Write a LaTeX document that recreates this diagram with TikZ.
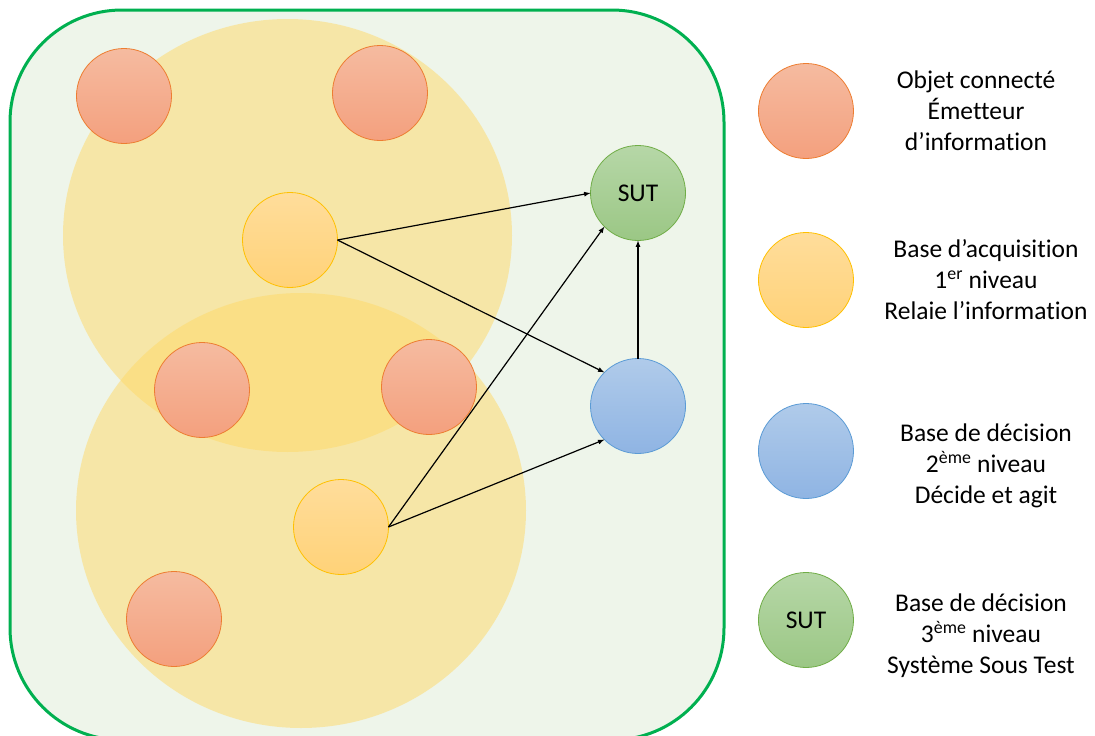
\documentclass[tikz,border=0pt]{standalone}
\usepackage{fontspec}
\setmainfont{Carlito}[Ligatures=NoCommon]
\usetikzlibrary{shapes.geometric,arrows,positioning}
\definecolor{cadre}{RGB}{0,176,80}
\definecolor{fond}{RGB}{238,245,234}
\definecolor{zone}{RGB}{255,217,102}
\definecolor{objhaut}{RGB}{245,187,160}
\definecolor{objbas}{RGB}{244,160,126}
\definecolor{objbord}{RGB}{237,125,49}
\definecolor{acqhaut}{RGB}{255,221,155}
\definecolor{acqbas}{RGB}{255,210,120}
\definecolor{acqbord}{RGB}{255,192,0}
\definecolor{dechaut}{RGB}{176,203,234}
\definecolor{decbas}{RGB}{143,180,227}
\definecolor{decbord}{RGB}{91,155,213}
\definecolor{suthaut}{RGB}{182,215,167}
\definecolor{sutbas}{RGB}{155,199,133}
\definecolor{sutbord}{RGB}{112,173,71}

\begin{document}
\begin{tikzpicture}[x=1pt,y=-1pt]
\tikzstyle{base}=[circle, inner sep=0pt,outer sep=0pt,
	line width=0.8pt,minimum size=95pt,
	font=\fontsize{25.5}{31}\selectfont,
]
\tikzstyle{objet}=[base,draw=objbord,top color=objhaut,bottom color=objbas]
\tikzstyle{acq}=[base,draw=acqbord,top color=acqhaut,bottom color=acqbas]
\tikzstyle{dec}=[base,draw=decbord,top color=dechaut,bottom color=decbas]
\tikzstyle{sut}=[base,draw=sutbord,top color=suthaut,bottom color=sutbas]
\tikzstyle{lien}=[->,>=latex,line width=1.2pt]
\tikzstyle{legende}=[align=center,inner sep=0pt,
	font=\fontsize{25.5}{31}\selectfont]
\useasboundingbox (0,0) rectangle (1095,736);
% cadre du systeme
\draw[cadre,fill=fond,line width=3pt,rounded corners=112pt] (10,10) rectangle (724,740);
% zones de couverture
\fill[zone,opacity=0.5] (287.5,235.5) ellipse [x radius=224.5pt,y radius=216.5pt];
\fill[zone,opacity=0.5] (301,510.5) ellipse [x radius=225pt,y radius=217.5pt];
% noeuds
\node[objet] (o1) at (124,96) {};
\node[objet] (o2) at (380,93) {};
\node[objet] (o3) at (202,390) {};
\node[objet] (o4) at (429,387) {};
\node[objet] (o5) at (174,619) {};
\node[acq] (a1) at (290,240) {};
\node[acq] (a2) at (341,527) {};
\node[sut] (s) at (638,193) {SUT};
\node[dec] (d) at (638,406) {};
\path[lien] (a1.east) edge (s.west) ;
\path[lien] (a1.east) edge (d.135) ;
\path[lien] (a2.east) edge (s.225) ;
\path[lien] (a2.east) edge (d.225) ;
\path[lien] (d.north) edge (s.south) ;
% legende
\node[objet] (lo) at (806,111) {};
\node[acq] (la) at (806,280) {};
\node[dec] (ld) at (806,451) {};
\node[sut] (ls) at (806,620) {SUT};
\node[legende] (to) at (976,111) {Objet connecté\\Émetteur\\d’information};
\node[legende] (ta) at (986,280) {Base d’acquisition\\1\textsuperscript{er} niveau\\Relaie l’information};
\node[legende] (td) at (986,466) {Base de décision\\2\textsuperscript{ème} niveau\\Décide et agit};
\node[legende] (ts) at (981,636) {Base de décision\\3\textsuperscript{ème} niveau\\Système Sous Test};
\end{tikzpicture}
\end{document}
